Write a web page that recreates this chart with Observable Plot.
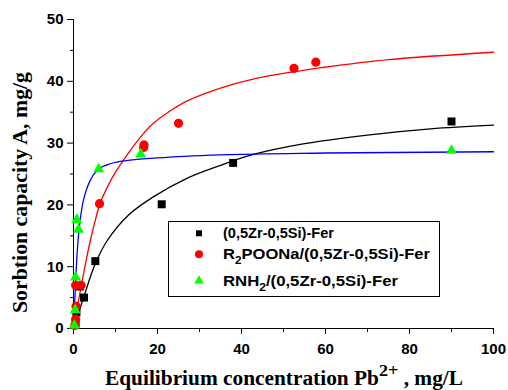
<!DOCTYPE html>
<html>
<head>
<meta charset="utf-8">
<script src="https://cdn.jsdelivr.net/npm/d3@7"></script>
<script src="https://cdn.jsdelivr.net/npm/@observablehq/plot@0.6"></script>
<style>
  html, body { margin: 0; padding: 0; background: #fff; }
  #chart { position: relative; width: 508px; height: 390px; }
</style>
</head>
<body>
<div id="chart"></div>
<script>
// ---- Data ----
const seriesNames = ["(0,5Zr-0,5Si)-Fer", "R2POONa/(0,5Zr-0,5Si)-Fer", "RNH2/(0,5Zr-0,5Si)-Fer"];

// measured points [C (mg/L), A (mg/g)]
const blackPoints = [[0.5,0.8],[0.7,2.6],[1.5,6.8],[2.5,5.0],[5.2,10.9],[21,20.1],[38,26.8],[90,33.5]];
const redPoints = [[0.3,0.5],[0.5,1.5],[0.6,3.6],[0.5,7.0],[1.8,7.0],[6.2,20.2],[16.7,29.3],[16.8,29.7],[25,33.2],[52.5,42.1],[57.7,43.1]];
const greenPoints = [[0.2,0.5],[0.4,3.0],[0.5,8.3],[0.8,17.6],[1.2,16.0],[6,25.8],[16,28.2],[90,28.8]];

// fitted curves
const blackCurve = [[0,0],[1,2.1],[2.5,5.2],[5.2,10.5],[8,14.2],[13,18.3],[19,21.3],[27,24.3],[35,26.4],[43,28.2],[54,29.8],[70,31.3],[85,32.3],[100,32.9]];
const redCurve = [[0,0],[1,3.8],[2,7.5],[3,11],[4,14.2],[5,17],[6.3,20.2],[8,22.8],[10,25.3],[13,28.3],[16,31.0],[19,33.2],[23,35.2],[27,36.8],[35,38.9],[43,40.4],[54,41.7],[59,42.2],[75,43.5],[100,44.7]];
const blueCurve = [[0,0],[0.3,4.5],[0.6,9],[1.0,13.5],[1.5,17],[2,19.5],[3,22.3],[4,24],[6,25.8],[9,26.7],[13,27.2],[20,27.6],[35,28.1],[60,28.4],[100,28.6]];

const xMajor = [0,20,40,60,80,100];
const xMinor = [10,30,50,70,90];
const yMajor = [0,10,20,30,40,50];
const yMinor = [5,15,25,35,45];

const X = d => d[0], Y = d => d[1];

const chart = Plot.plot({
  width: 508,
  height: 390,
  marginLeft: 73,
  marginRight: 15,
  marginTop: 19,
  marginBottom: 62,
  style: {fontFamily: "'Liberation Sans', Arial, sans-serif", fontSize: "15px", fontWeight: "bold", color: "black", background: "white", overflow: "visible"},
  x: {domain: [0, 100]},
  y: {domain: [0, 50]},
  marks: [
    Plot.axisX({ticks: xMajor, tickSize: 6, tickPadding: 9, label: null}),
    Plot.axisX({ticks: xMinor, tickSize: 4, tickFormat: () => "", label: null}),
    Plot.axisY({ticks: yMajor, tickSize: 6, tickPadding: 4, label: null}),
    Plot.axisY({ticks: yMinor, tickSize: 3, tickFormat: () => "", label: null}),
    Plot.ruleX([0], {stroke: "black"}),
    Plot.ruleY([0], {stroke: "black"}),
    Plot.line(blackCurve, {x: X, y: Y, stroke: "black", strokeWidth: 1.3, curve: "catmull-rom"}),
    Plot.line(redCurve, {x: X, y: Y, stroke: "#ff0000", strokeWidth: 1.3, curve: "catmull-rom"}),
    Plot.line(blueCurve, {x: X, y: Y, stroke: "#0000ff", strokeWidth: 1.3, curve: "monotone-x"}),
    Plot.dot(blackPoints, {x: X, y: Y, symbol: "square", r: 4.5, fill: "black", stroke: "none"}),
    Plot.dot(redPoints, {x: X, y: Y, symbol: "circle", r: 4.6, fill: "#ff0000", stroke: "none"}),
    Plot.dot(greenPoints, {x: X, y: Y, symbol: "triangle", r: 4.1, fill: "#00ff00", stroke: "none"})
  ]
});
document.getElementById("chart").appendChild(chart);

const svg = d3.select(chart);

// Axis titles
const serif = "'Liberation Serif', 'Times New Roman', serif";
const xt = svg.append("text")
  .attr("x", 105).attr("y", 385)
  .attr("text-anchor", "start")
  .attr("textLength", 358).attr("lengthAdjust", "spacingAndGlyphs")
  .style("font-family", serif).style("font-size", "20px").style("font-weight", "bold");
xt.append("tspan").text("Equilibrium concentration Pb");
xt.append("tspan").attr("dy", -9).style("font-size", "17px").text("2+");
xt.append("tspan").attr("dy", 9).text(" , mg/L");

svg.append("text")
  .attr("transform", "translate(27,313) rotate(-90)")
  .attr("text-anchor", "start")
  .attr("textLength", 241).attr("lengthAdjust", "spacingAndGlyphs")
  .style("font-family", serif).style("font-size", "20px").style("font-weight", "bold")
  .text("Sorbtion capacity A, mg/g");

// Legend
const lg = svg.append("g")
  .attr("text-anchor", "start")
  .style("font-family", "'Liberation Sans', Arial, sans-serif").style("font-size", "14px").style("font-weight", "bold");
lg.append("rect").attr("x", 168.5).attr("y", 221.5).attr("width", 271).attr("height", 75)
  .attr("fill", "white").attr("stroke", "black").attr("stroke-width", 1);
const rowsY = [233.3, 254.3, 280.7];
lg.append("rect").attr("x", 196).attr("y", rowsY[0] - 3).attr("width", 6).attr("height", 6).attr("fill", "black");
lg.append("circle").attr("cx", 199).attr("cy", rowsY[1]).attr("r", 4).attr("fill", "#ff0000");
lg.append("path").attr("transform", `translate(199,${rowsY[2]})`)
  .attr("d", d3.symbol(d3.symbolTriangle, 40)()).attr("fill", "#00ff00");

function legendText(y, parts, len) {
  const t = lg.append("text").attr("x", 223).attr("y", y + 5).attr("text-anchor", "start")
    .attr("textLength", len).attr("lengthAdjust", "spacingAndGlyphs");
  let shift = 0;
  for (const [s, sub] of parts) {
    const target = sub ? 5 : 0;
    const sp = t.append("tspan").attr("dy", target - shift).text(s);
    if (sub) sp.style("font-size", "10px");
    shift = target;
  }
}
legendText(rowsY[0], [[seriesNames[0], false]], 111);
legendText(rowsY[1], [["R", false], ["2", true], ["POONa/(0,5Zr-0,5Si)-Fer", false]], 207);
legendText(rowsY[2], [["RNH", false], ["2", true], ["/(0,5Zr-0,5Si)-Fer", false]], 175);
</script>
</body>
</html>
